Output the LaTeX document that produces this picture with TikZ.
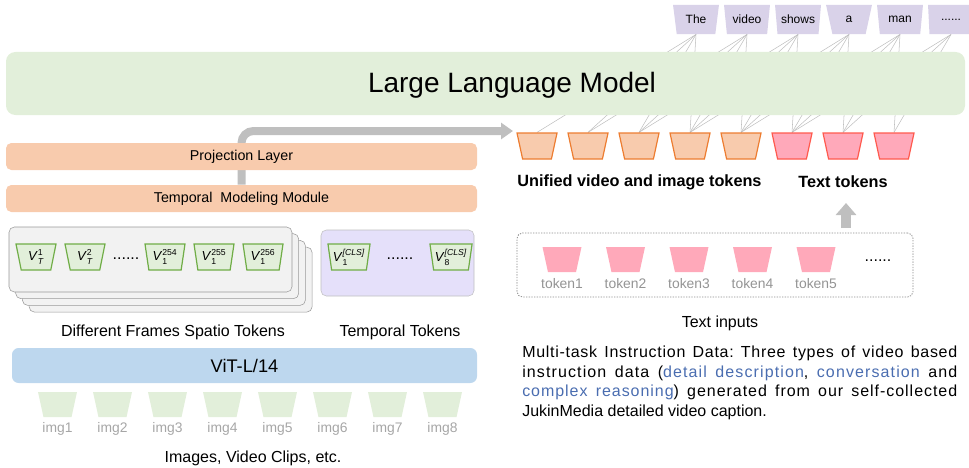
\documentclass[tikz,border=0pt]{standalone}
\usepackage{fontspec}
\setmainfont{Liberation Sans}
\usetikzlibrary{shapes.geometric,arrows.meta,backgrounds}

\definecolor{llmgreen}{HTML}{E2EFDA}
\definecolor{projorange}{HTML}{F8CBAD}
\definecolor{vitblue}{HTML}{BDD7EE}
\definecolor{outpurple}{HTML}{D9D2E9}
\definecolor{tokorange}{HTML}{ED7D31}
\definecolor{txtpink}{HTML}{FFA9BA}
\definecolor{txtred}{HTML}{FF5A4E}
\definecolor{framegreen}{HTML}{70AD47}
\definecolor{stackgray}{HTML}{F2F2F2}
\definecolor{clsviolet}{HTML}{E5E0FA}
\definecolor{arrowgray}{HTML}{BFBFBF}
\definecolor{capblue}{HTML}{4A6DB0}

\newcommand\vtok[2]{\textit{V}$^{\hbox{\fontsize{6.5}{6.5}\selectfont #1}}_{\hbox{\fontsize{6.5}{6.5}\selectfont #2}}$}
\newcommand\sixdots{......}
\newcommand\spaced[2]{{\addfontfeature{LetterSpace=#1}#2}}

\tikzset{
  trap/.style={trapezium, shape border rotate=180, trapezium stretches=true,
    trapezium left angle=79, trapezium right angle=79, inner sep=1pt,
    minimum width=30pt, minimum height=19.5pt},
  outtok/.style={trap, fill=outpurple, minimum width=34.5pt, minimum height=22pt,
    font=\fontsize{9}{9}\selectfont},
  vistok/.style={trap, fill=projorange, draw=tokorange, line width=0.9pt},
  texttok/.style={trap, fill=txtpink, draw=txtred, line width=0.9pt},
  frametok/.style={trap, fill=llmgreen, draw=framegreen, line width=0.9pt,
    font=\fontsize{9.8}{9.8}\selectfont},
  plaintok/.style={trap, minimum width=29.25pt, minimum height=18.75pt},
  layerbox/.style={fill=projorange, rounded corners=4pt, inner sep=0pt,
    minimum width=353.25pt, minimum height=20.25pt, font=\fontsize{10.7}{10.7}\selectfont},
  caption/.style={font=\fontsize{12}{12}\selectfont},
  toklabel/.style={font=\fontsize{10.4}{10.4}\selectfont, text=black!42},
  attn/.style={arrowgray, line width=0.4pt},
  bigarrow/.style={arrowgray, line width=6pt, -{Triangle[length=9pt,width=12pt]}},
}

\begin{document}
\begin{tikzpicture}[x=0.75pt, y=-0.75pt]
\useasboundingbox (0,0) rectangle (969,467);
\clip (0,0) rectangle (969,467);

% language model and its tokens
\node (llm) [fill=llmgreen, rounded corners=7pt, minimum width=719.25pt, minimum height=47.25pt] at (485.5,83.5) {};
\node (llmtext) [font=\fontsize{21}{21}\selectfont] at (512,85) {Large Language Model};

\foreach \w [count=\j] in {The,video,shows,a,man,\sixdots}
  \node (out\j) [outtok] at ({696+51*(\j-1)},19.5) {\w};

\foreach \i in {1,...,5}
  \node (in\i) [vistok] at ({537+51*(\i-1)},146) {};
\foreach \i in {6,7,8}
  \node (in\i) [texttok] at ({537+51*(\i-1)},146) {};

\begin{scope}[on background layer]
\foreach \j in {1,...,6}
  \foreach \k in {0,...,3} {
    \pgfmathtruncatemacro\i{\j+\k}
    \ifnum\i<9 \draw[attn] (in\i.north) -- (out\j.south); \fi
  }
\end{scope}

\node (utok) [font=\bfseries\fontsize{12.2}{12.2}\selectfont] at (639.5,182) {Unified video and image tokens};
\node (ttok) [font=\bfseries\fontsize{12.2}{12.2}\selectfont] at (843,182) {Text tokens};

% video branch
\node (proj) [layerbox] at (241.5,156.5) {Projection Layer};
\node (tmm) [layerbox] at (241.5,198.5) {Temporal\ \ Modeling Module};

\coordinate (elbowtip) at (513,131);
\begin{scope}[on background layer]
\draw[bigarrow, rounded corners=9pt] (tmm.north) |- (elbowtip);
\end{scope}

\foreach \s in {3,2,1}
  \draw[fill=stackgray, draw=black!40, rounded corners=4pt] ({9+6.7*\s},{227+6.7*\s}) rectangle ++(283,65);
\node (frames) [fill=stackgray, draw=black!40, rounded corners=4pt, minimum width=212.25pt, minimum height=48.75pt] at (150.5,259.5) {};

\node (f1) [frametok] at (36,257) {\vtok{1}{\itshape T}};
\node (f2) [frametok] at (85,257) {\vtok{2}{\itshape T}};
\node (fdots) [caption] at (126,259) {\sixdots};
\node (f254) [frametok] at (165,257) {\vtok{254}{1}};
\node (f255) [frametok] at (214,257) {\vtok{255}{1}};
\node (f256) [frametok] at (263,257) {\vtok{256}{1}};

\node (tbox) [fill=clsviolet, draw=black!25, rounded corners=4pt, minimum width=114.75pt, minimum height=49.5pt] at (397.5,263) {};
\node (c1) [frametok] at (349,257) {\vtok{\itshape [CLS]}{1}};
\node (cdots) [caption] at (400,259) {\sixdots};
\node (c8) [frametok] at (451,257) {\vtok{\itshape [CLS]}{8}};

\node (spatio) [caption] at (173,332) {Different Frames Spatio Tokens};
\node (temporal) [caption] at (400,332) {Temporal Tokens};

\node (vit) [fill=vitblue, rounded corners=5pt, minimum width=348.75pt, minimum height=26.25pt,
  font=\fontsize{13.7}{13.7}\selectfont] at (244.5,365.5) {ViT-L/14};

\foreach \k in {1,...,8} {
  \node (img\k) [plaintok, fill=llmgreen] at ({57.5+55*(\k-1)},404.5) {};
  \node (imglabel\k) [toklabel, text=black!35] at ({57.5+55*(\k-1)},429) {img\k};
}
\node (images) [caption] at (253,458) {Images, Video Clips, etc.};

% text branch
\node (textbox) [draw=black!45, dash pattern=on 1pt off 1pt, line width=0.6pt, rounded corners=4pt,
  minimum width=297pt, minimum height=48pt] at (715,265) {};
\foreach \k in {1,...,5} {
  \node (t\k) [plaintok, fill=txtpink] at ({562+63.5*(\k-1)},259.5) {};
  \node (tlabel\k) [toklabel] at ({562+63.5*(\k-1)},284) {token\k};
}
\node (tdots) [caption] at (878,261) {\sixdots};
\node (textin) [caption] at (720,323) {Text inputs};

\coordinate (upfoot) at (846,228);
\coordinate (uptip) at (846,203);
\draw[arrowgray, line width=7.5pt, -{Triangle[length=9pt,width=15pt]}] (upfoot) -- (uptip);

\node (instr) [anchor=north west, inner sep=0pt, text width=326.25pt, align=justify,
  font=\fontsize{12}{14.6}\selectfont\frenchspacing] at (522,346)
  {\spaced{4.5}{Multi-task Instruction Data: Three types of video based}\linebreak
   \spaced{7}{instruction data (\textcolor{capblue}{detail description}, \textcolor{capblue}{conversation} and}\linebreak
   \spaced{6}{\textcolor{capblue}{complex reasoning}) generated from our self-collected}\linebreak
   JukinMedia detailed video caption.};
\end{tikzpicture}
\end{document}
